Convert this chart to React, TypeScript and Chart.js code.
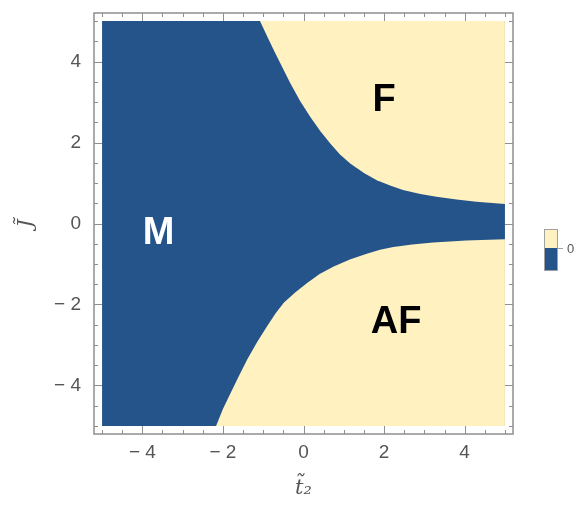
import React, { useEffect, useRef } from "react";
import { Chart, registerables } from "chart.js";

Chart.register(...registerables);

// axis range (frame has a little padding around the [-5, 5] data square)
const AXIS_MIN = -5.2;
const AXIS_MAX = 5.2;
const DATA_MIN = -5;
const DATA_MAX = 5;

const MAJOR_TICKS = [-4, -2, 0, 2, 4];
const TICK_LABELS = ["\u2212 4", "\u2212 2", "0", "2", "4"];

// M / F boundary (upper curve): t2 -> J
const UPPER_T2 = [-1.08, -0.9, -0.73, -0.52, -0.32, -0.08, 0.17, 0.42, 0.67, 0.9, 1.16, 1.5, 1.82, 2.15, 2.47, 2.9, 3.3, 3.8, 4.29, 5];
const UPPER_J = [5, 4.62, 4.27, 3.85, 3.45, 3.02, 2.63, 2.28, 1.97, 1.71, 1.48, 1.25, 1.07, 0.94, 0.83, 0.73, 0.66, 0.59, 0.54, 0.48];

// M / AF boundary (lower curve): t2 -> J
const LOWER_T2 = [-2.17, -2.0, -1.8, -1.6, -1.39, -1.15, -0.9, -0.7, -0.49, -0.2, 0.09, 0.4, 0.75, 1.15, 1.57, 1.9, 2.23, 2.7, 3.22, 4.04, 5];
const LOWER_J = [-5, -4.58, -4.17, -3.76, -3.35, -2.93, -2.53, -2.23, -1.96, -1.7, -1.47, -1.25, -1.06, -0.89, -0.75, -0.65, -0.58, -0.52, -0.47, -0.42, -0.39];

const REGION_NAMES = ["M", "F", "AF"];
const REGION_T2 = [-3.6, 2.0, 2.3];
const REGION_J = [-0.25, 3.05, -2.45];
const REGION_COLORS = ["#ffffff", "#000000", "#000000"];

const LEGEND_LABEL = "0";

const BLUE = "#25548a";
const YELLOW = "#fff2c0";
const FRAME = "#8f8f8f";
const TEXT = "#555555";

function pts(xs: number[], ys: number[]) {
  return xs.map((x, i) => ({ x, y: ys[i] }));
}

const framePlugin = {
  id: "framePlugin",
  afterDatasetsDraw(chart: any) {
    const { ctx, chartArea, scales } = chart;
    const xs = scales.x;
    const ys = scales.y;
    ctx.save();
    // region labels
    ctx.textAlign = "center";
    ctx.textBaseline = "middle";
    ctx.font = "bold 38px 'Liberation Sans', Arial, sans-serif";
    REGION_NAMES.forEach((name, i) => {
      ctx.fillStyle = REGION_COLORS[i];
      ctx.fillText(name, xs.getPixelForValue(REGION_T2[i]), ys.getPixelForValue(REGION_J[i]));
    });
    // frame
    ctx.strokeStyle = FRAME;
    ctx.lineWidth = 1.5;
    ctx.strokeRect(chartArea.left, chartArea.top, chartArea.right - chartArea.left, chartArea.bottom - chartArea.top);
    // inward ticks
    ctx.lineWidth = 1;
    ctx.beginPath();
    for (let k = 0; k <= 20; k++) {
      const v = DATA_MIN + k * 0.5;
      const major = MAJOR_TICKS.indexOf(v) >= 0;
      const len = major ? 8 : 4;
      const px = Math.round(xs.getPixelForValue(v)) + 0.5;
      ctx.moveTo(px, chartArea.bottom);
      ctx.lineTo(px, chartArea.bottom - len);
      ctx.moveTo(px, chartArea.top);
      ctx.lineTo(px, chartArea.top + len);
      const py = Math.round(ys.getPixelForValue(v)) + 0.5;
      ctx.moveTo(chartArea.left, py);
      ctx.lineTo(chartArea.left + len, py);
      ctx.moveTo(chartArea.right, py);
      ctx.lineTo(chartArea.right - len, py);
    }
    ctx.stroke();
    // legend swatch
    const lx = chartArea.right + 31;
    const ly = chartArea.top + 216;
    const w = 13;
    const h1 = 19;
    const h2 = 22;
    ctx.fillStyle = YELLOW;
    ctx.fillRect(lx, ly, w, h1);
    ctx.fillStyle = BLUE;
    ctx.fillRect(lx, ly + h1, w, h2);
    ctx.strokeStyle = "#a0a0a0";
    ctx.lineWidth = 1;
    ctx.strokeRect(lx + 0.5, ly + 0.5, w, h1 + h2);
    ctx.beginPath();
    ctx.moveTo(lx + w, ly + h1 + 0.5);
    ctx.lineTo(lx + w + 6, ly + h1 + 0.5);
    ctx.stroke();
    ctx.fillStyle = TEXT;
    ctx.font = "13px 'Liberation Sans', Arial, sans-serif";
    ctx.textAlign = "left";
    ctx.fillText(LEGEND_LABEL, lx + w + 10, ly + h1 + 1);
    ctx.restore();
  },
};

export default function App() {
  const ref = useRef<HTMLCanvasElement>(null);
  useEffect(() => {
    const canvas = ref.current!;
    const tickFont = { family: "'Liberation Sans', Arial, sans-serif", size: 19 };
    const titleFont = { family: "'DejaVu Serif', serif", size: 21, style: "italic" as const };
    const chart = new Chart(canvas, {
      type: "scatter",
      data: {
        datasets: [
          {
            label: "F",
            data: [...pts(UPPER_T2, UPPER_J), { x: DATA_MAX, y: DATA_MAX }],
            showLine: true,
            fill: "shape",
            backgroundColor: YELLOW,
            borderWidth: 0,
            pointRadius: 0,
            order: 1,
          },
          {
            label: "AF",
            data: [...pts(LOWER_T2, LOWER_J), { x: DATA_MAX, y: DATA_MIN }],
            showLine: true,
            fill: "shape",
            backgroundColor: YELLOW,
            borderWidth: 0,
            pointRadius: 0,
            order: 1,
          },
          {
            label: "M",
            data: [
              { x: DATA_MIN, y: DATA_MAX },
              { x: DATA_MAX, y: DATA_MAX },
              { x: DATA_MAX, y: DATA_MIN },
              { x: DATA_MIN, y: DATA_MIN },
            ],
            showLine: true,
            fill: "shape",
            backgroundColor: BLUE,
            borderWidth: 0,
            pointRadius: 0,
            order: 2,
          },
        ],
      },
      options: {
        responsive: false,
        animation: false,
        devicePixelRatio: 1,
        layout: { padding: { left: 0, top: 13, right: 65, bottom: 0 } },
        plugins: { legend: { display: false }, tooltip: { enabled: false } },
        events: [],
        scales: {
          x: {
            type: "linear",
            min: AXIS_MIN,
            max: AXIS_MAX,
            grid: { display: false, drawTicks: false },
            border: { display: false },
            afterBuildTicks: (s: any) => {
              s.ticks = MAJOR_TICKS.map((v) => ({ value: v }));
            },
            afterFit: (s: any) => {
              s.height = 72;
              s.paddingLeft = 0;
              s.paddingRight = 0;
            },
            ticks: {
              padding: 7,
              color: TEXT,
              font: tickFont,
              maxRotation: 0,
              autoSkip: false,
              callback: (v: any) => TICK_LABELS[MAJOR_TICKS.indexOf(Number(v))] ?? "",
            },
            title: {
              display: true,
              text: "t\u0303\u2082",
              color: TEXT,
              font: titleFont,
              padding: { top: 0, bottom: 5 },
            },
          },
          y: {
            type: "linear",
            min: AXIS_MIN,
            max: AXIS_MAX,
            grid: { display: false, drawTicks: false },
            border: { display: false },
            afterBuildTicks: (s: any) => {
              s.ticks = MAJOR_TICKS.map((v) => ({ value: v }));
            },
            afterFit: (s: any) => {
              s.width = 94;
              s.paddingTop = 0;
              s.paddingBottom = 0;
            },
            ticks: {
              padding: 13,
              color: TEXT,
              font: tickFont,
              autoSkip: false,
              callback: (v: any) => TICK_LABELS[MAJOR_TICKS.indexOf(Number(v))] ?? "",
            },
            title: {
              display: true,
              text: "J\u0303",
              color: TEXT,
              font: titleFont,
              padding: { top: 14, bottom: 0 },
            },
          },
        },
      },
      plugins: [framePlugin],
    });
    return () => chart.destroy();
  }, []);
  return (
    <div style={{ position: "absolute", left: 0, top: 0, width: 578, height: 506 }}>
      <canvas ref={ref} width={578} height={506} style={{ width: 578, height: 506 }} />
    </div>
  );
}
